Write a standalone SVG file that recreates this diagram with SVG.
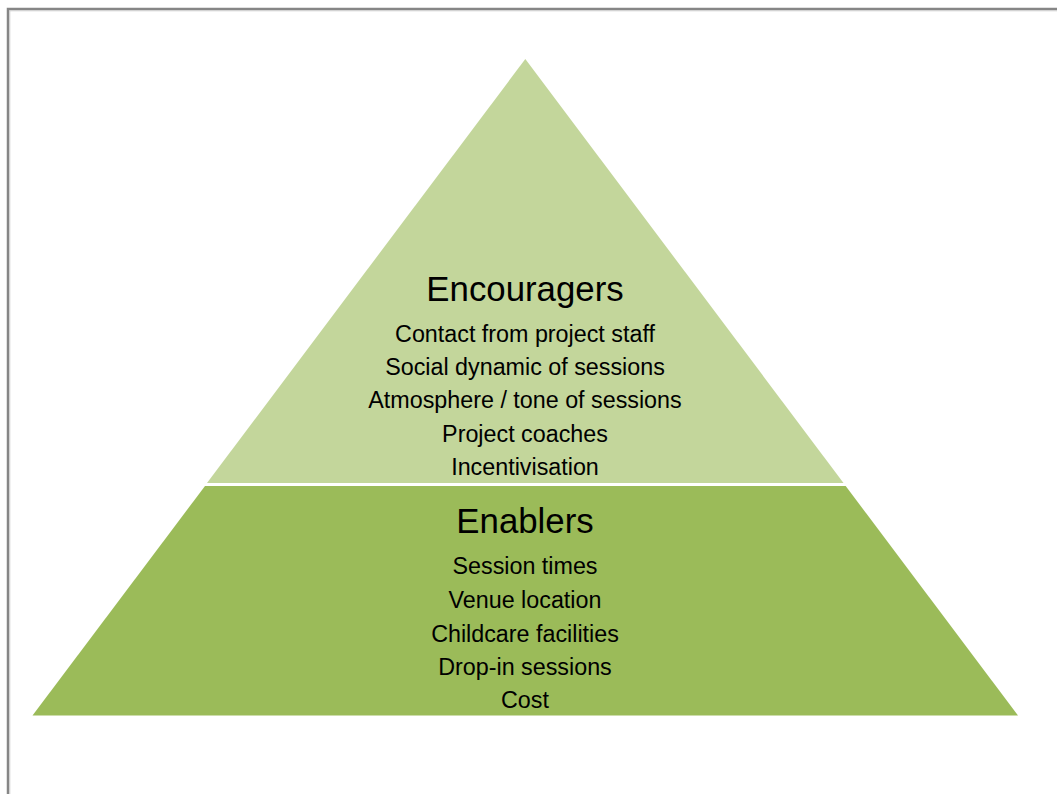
<svg xmlns="http://www.w3.org/2000/svg" width="1057" height="794" viewBox="0 0 1057 794">
  <style>
    .title { font-family: "Liberation Sans", Arial, sans-serif; font-size: 34.8px; fill: #000; text-anchor: middle; }
    .item { font-family: "Liberation Sans", Arial, sans-serif; font-size: 23.3px; fill: #000; text-anchor: middle; }
  </style>
  <rect width="1057" height="794" fill="#ffffff"/>
  <!-- page frame -->
  <path d="M8 800 V9 H1060" fill="none" stroke="#868686" stroke-width="2.5"/>
  <path d="M9.8 800 V10.8 H1060" fill="none" stroke="#c8c8c8" stroke-width="0.8"/>

  <!-- upper tier -->
  <g id="encouragers">
    <polygon points="525.3,59 843.5,483 207,483" fill="#c3d69b"/>
    <text class="title" x="525" y="301">Encouragers</text>
    <text class="item" x="525" y="341.7">Contact from project staff</text>
    <text class="item" x="525" y="375">Social dynamic of sessions</text>
    <text class="item" x="525" y="408.3">Atmosphere / tone of sessions</text>
    <text class="item" x="525" y="441.7">Project coaches</text>
    <text class="item" x="525" y="475">Incentivisation</text>
  </g>

  <!-- lower tier -->
  <g id="enablers">
    <polygon points="205,486 845.7,486 1018,715.5 32.5,715.5" fill="#9bbb59"/>
    <text class="title" x="525" y="533.3">Enablers</text>
    <text class="item" x="525" y="574.3">Session times</text>
    <text class="item" x="525" y="607.7">Venue location</text>
    <text class="item" x="525" y="641.7">Childcare facilities</text>
    <text class="item" x="525" y="675">Drop-in sessions</text>
    <text class="item" x="525" y="708.3">Cost</text>
  </g>

  <g id="connectors"/>
</svg>
